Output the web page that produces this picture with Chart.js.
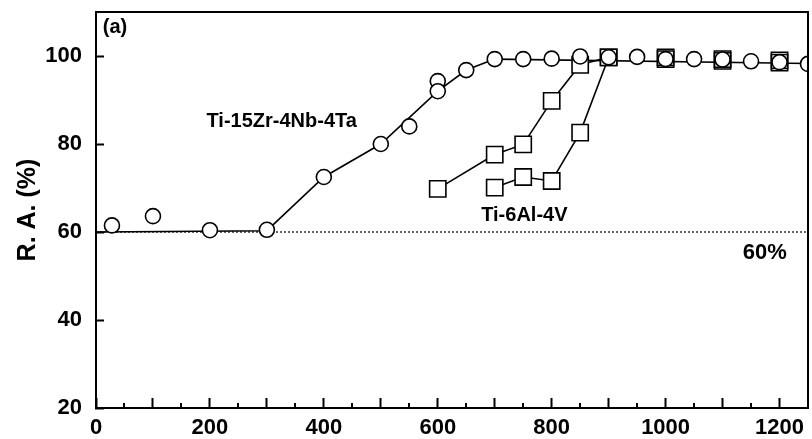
<!DOCTYPE html>
<html>
<head>
<meta charset="utf-8">
<script src="https://cdn.jsdelivr.net/npm/chart.js@4/dist/chart.umd.min.js"></script>
<style>
  body { margin: 0; background: #fff; }
  #wrap { width: 812px; height: 439px; position: relative; }
</style>
</head>
<body>
<div id="wrap"><canvas id="myChart"></canvas></div>
<script>
'use strict';

// Ti-15Zr-4Nb-4Ta (circles)
let circX = [28, 100, 200, 300, 400, 500, 550, 600, 600, 650, 700, 750, 800, 850, 900, 950, 1000, 1050, 1100, 1150, 1200, 1250];
let circY = [61.5, 63.6, 60.4, 60.5, 72.5, 80.0, 84.0, 94.3, 92.0, 96.8, 99.3, 99.3, 99.4, 99.9, 99.7, 99.8, 99.3, 99.3, 99.2, 98.8, 98.6, 98.2];

// trend line through the circles
let fitX = [0, 300, 400, 500, 600, 650, 700, 1250];
let fitY = [60, 60.3, 72.5, 80.0, 92.0, 96.8, 99.3, 98.3];

// Ti-6Al-4V (squares), two runs
let sqAX = [600, 700, 750, 800, 850, 900];
let sqAY = [69.8, 77.6, 79.9, 89.8, 98.0, 99.7];
let sqBX = [700, 750, 800, 850, 900];
let sqBY = [70.1, 72.5, 71.6, 82.6, 99.7];
let sqHighX = [1000, 1000, 1100, 1100, 1200, 1200];
let sqHighY = [99.7, 99.3, 99.3, 98.9, 99.0, 98.5];

let limitX = [0, 1250];
let limitY = [60, 60];

let xTicks = [0, 200, 400, 600, 800, 1000, 1200];
let yTicks = [20, 40, 60, 80, 100];

const FONT = '"Liberation Sans", Arial, sans-serif';

function pts( xs, ys ) {
  let out = [];
  for ( let i = 0; i < xs.length; i++ ) {
    out.push( { x: xs[i], y: ys[i] } );
  }
  return out;
}

function noPad( s ) {
  s.paddingTop = 0;
  s.paddingBottom = 0;
  s.paddingLeft = 0;
  s.paddingRight = 0;
}

// frame, minor ticks and text labels
const extras = {
  id: 'extras',
  afterDraw( chart ) {
    const ctx = chart.ctx;
    const a = chart.chartArea;
    const xs = chart.scales.x;
    const ys = chart.scales.y;
    ctx.save();
    ctx.strokeStyle = '#000';
    ctx.lineWidth = 2;
    ctx.beginPath();
    ctx.moveTo( a.left, a.top );
    ctx.lineTo( a.right, a.top );
    ctx.lineTo( a.right, a.bottom );
    ctx.stroke();

    // short ticks half way between the long ones
    for ( let v = 50; v < xs.max; v += 100 ) {
      let px = Math.round( xs.getPixelForValue( v ) );
      ctx.beginPath();
      ctx.moveTo( px, a.bottom );
      ctx.lineTo( px, a.bottom - 5 );
      ctx.stroke();
    }

    ctx.fillStyle = '#000';
    ctx.textBaseline = 'middle';
    ctx.font = 'bold 20px ' + FONT;
    ctx.textAlign = 'left';
    ctx.fillText( '(a)', xs.getPixelForValue( 12 ), ys.getPixelForValue( 106.4 ) );
    ctx.textAlign = 'center';
    ctx.fillText( 'Ti-15Zr-4Nb-4Ta', xs.getPixelForValue( 326 ), ys.getPixelForValue( 85.1 ) );
    ctx.fillText( 'Ti-6Al-4V', xs.getPixelForValue( 752 ), ys.getPixelForValue( 63.8 ) );
    ctx.font = 'bold 22px ' + FONT;
    ctx.fillText( '60%', xs.getPixelForValue( 1174 ), ys.getPixelForValue( 55.3 ) );
    ctx.restore();
  }
};

let ctx = document.getElementById( 'myChart' ).getContext( '2d' );
let myChart = new Chart( ctx, {
  type: 'scatter',
  data: {
    datasets: [{
      label: 'Ti-15Zr-4Nb-4Ta',
      data: pts( circX, circY ),
      showLine: false,
      pointStyle: 'circle',
      pointRadius: 7.5,
      pointBorderWidth: 1.6,
      pointBackgroundColor: '#fff',
      pointBorderColor: '#000',
      order: 0
    }, {
      label: 'Ti-6Al-4V a',
      data: pts( sqAX, sqAY ),
      showLine: true,
      borderColor: '#000',
      borderWidth: 1.6,
      pointStyle: 'rect',
      pointRadius: 11.5,
      pointBorderWidth: 1.6,
      pointBackgroundColor: '#fff',
      pointBorderColor: '#000',
      order: 1
    }, {
      label: 'Ti-6Al-4V b',
      data: pts( sqBX, sqBY ),
      showLine: true,
      borderColor: '#000',
      borderWidth: 1.6,
      pointStyle: 'rect',
      pointRadius: 11.5,
      pointBorderWidth: 1.6,
      pointBackgroundColor: '#fff',
      pointBorderColor: '#000',
      order: 1
    }, {
      label: 'Ti-6Al-4V high',
      data: pts( sqHighX, sqHighY ),
      showLine: false,
      pointStyle: 'rect',
      pointRadius: 11.5,
      pointBorderWidth: 1.6,
      pointBackgroundColor: 'rgba(255,255,255,0)',
      pointBorderColor: '#000',
      order: 1
    }, {
      label: 'trend',
      data: pts( fitX, fitY ),
      showLine: true,
      borderColor: '#000',
      borderWidth: 1.6,
      pointRadius: 0,
      order: 2
    }, {
      label: '60%',
      data: pts( limitX, limitY ),
      showLine: true,
      borderColor: '#000',
      borderWidth: 1.2,
      borderDash: [2, 2],
      pointRadius: 0,
      order: 3
    }]
  },
  options: {
    responsive: true,
    maintainAspectRatio: false,
    animation: false,
    layout: { autoPadding: false, padding: { top: 12, right: 4, left: 0, bottom: 0 } },
    plugins: {
      legend: { display: false },
      tooltip: { enabled: false }
    },
    scales: {
      x: {
        type: 'linear',
        min: 0,
        max: 1250,
        border: { color: '#000', width: 2 },
        grid: { drawOnChartArea: false, drawTicks: true, tickLength: -10, tickWidth: 2, tickColor: '#000' },
        ticks: {
          stepSize: 100,
          includeBounds: false,
          maxRotation: 0,
          autoSkip: false,
          padding: 17,
          color: '#000',
          font: { family: FONT, size: 22, weight: 'bold' },
          callback: function( v ) {
            return xTicks.indexOf( v ) >= 0 ? String( v ) : '';
          }
        },
        afterFit: function( s ) { s.height = 31; noPad( s ); }
      },
      y: {
        min: 20,
        max: 110,
        border: { color: '#000', width: 2 },
        grid: { drawOnChartArea: false, drawTicks: true, tickLength: -8, tickWidth: 2, tickColor: '#000' },
        ticks: {
          stepSize: 20,
          includeBounds: false,
          padding: 22,
          color: '#000',
          font: { family: FONT, size: 22, weight: 'bold' },
          callback: function( v ) {
            return yTicks.indexOf( v ) >= 0 ? String( v ) : '';
          }
        },
        title: {
          display: true,
          text: 'R. A. (%)',
          color: '#000',
          font: { family: FONT, size: 25, weight: 'bold' },
          padding: { top: 13, bottom: 0 }
        },
        afterFit: function( s ) { s.width = 96; noPad( s ); }
      }
    }
  },
  plugins: [extras]
} );
</script>
</body>
</html>
